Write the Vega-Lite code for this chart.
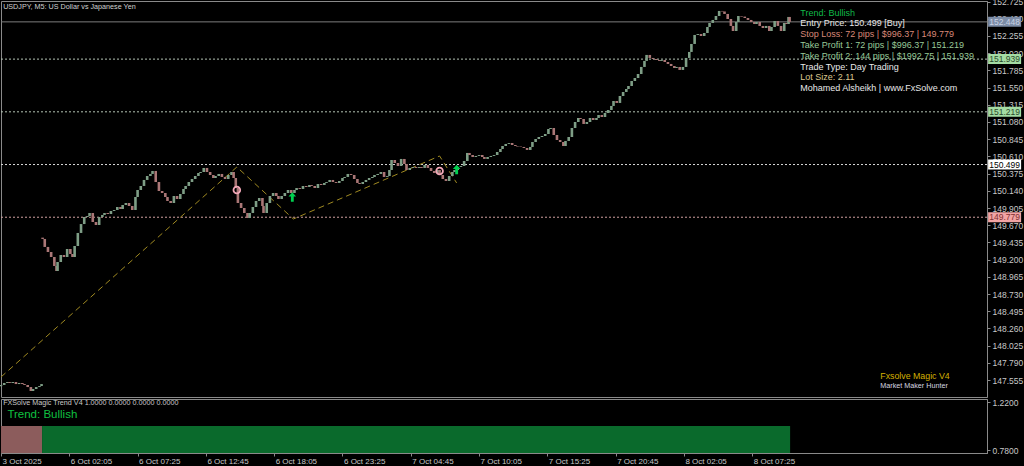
{
"$schema": "https://vega.github.io/schema/vega-lite/v6.json",
"background": "#000000",
"padding": {"top": -3, "left": -2, "right": 0, "bottom": 0},
"spacing": 2,
"bounds": "flush",
"config": {
  "view": {"stroke": "#8a8a8a", "strokeWidth": 1},
  "font": "Liberation Sans",
  "axis": {"domainColor": "#8a8a8a", "tickColor": "#8a8a8a", "labelColor": "#c8c8c8", "labelFont": "Liberation Sans", "labelFontSize": 8.5, "grid": false, "tickSize": 3, "labelPadding": 2, "labelOverlap": false, "labelFlush": false}
},
"datasets": {
  "candles": [
{"i":0,"o":147.470,"c":147.487},{"i":3,"o":147.487,"c":147.514},{"i":6,"o":147.514,"c":147.528},{"i":8,"o":147.528,"c":147.514},{"i":11,"o":147.514,"c":147.528},{"i":14,"o":147.528,"c":147.500},{"i":17,"o":147.500,"c":147.514},{"i":20,"o":147.514,"c":147.500},{"i":22,"o":147.500,"c":147.487},{"i":25,"o":147.487,"c":147.459},{"i":28,"o":147.459,"c":147.405},{"i":30,"o":147.405,"c":147.432},{"i":33,"o":147.432,"c":147.459},{"i":36,"o":147.459,"c":147.473},{"i":38,"o":147.473,"c":147.500},
{"i":39,"o":149.500,"c":149.482},{"i":41,"o":149.482,"c":149.373},{"i":44,"o":149.373,"c":149.304},{"i":47,"o":149.304,"c":149.236},{"i":50,"o":149.236,"c":149.113},{"i":52,"o":149.113,"c":149.044},{"i":53,"o":149.044,"c":149.167},{"i":56,"o":149.167,"c":149.263},{"i":59,"o":149.263,"c":149.236},{"i":62,"o":149.236,"c":149.345},{"i":65,"o":149.345,"c":149.277},{"i":67,"o":149.277,"c":149.236},{"i":69,"o":149.236,"c":149.386},{"i":72,"o":149.386,"c":149.564},{"i":75,"o":149.564,"c":149.686},{"i":78,"o":149.686,"c":149.782},{"i":81,"o":149.782,"c":149.796},{"i":83,"o":149.796,"c":149.837},{"i":86,"o":149.837,"c":149.714},{"i":89,"o":149.714,"c":149.673},{"i":92,"o":149.673,"c":149.782},{"i":95,"o":149.782,"c":149.810},{"i":97,"o":149.810,"c":149.837},{"i":100,"o":149.837,"c":149.823},{"i":103,"o":149.823,"c":149.864},{"i":106,"o":149.864,"c":149.878},{"i":109,"o":149.878,"c":149.919},{"i":112,"o":149.919,"c":149.891},{"i":114,"o":149.891,"c":149.946},{"i":117,"o":149.946,"c":149.973},{"i":120,"o":149.973,"c":149.932},{"i":123,"o":149.932,"c":149.878},{"i":126,"o":149.878,"c":150.055},{"i":128,"o":150.055,"c":150.151},{"i":131,"o":150.151,"c":150.206},{"i":134,"o":150.206,"c":150.288},{"i":137,"o":150.288,"c":150.342},{"i":140,"o":150.342,"c":150.370},{"i":142,"o":150.370,"c":150.411},{"i":145,"o":150.411,"c":150.260},{"i":148,"o":150.260,"c":150.137},{"i":151,"o":150.137,"c":150.110},{"i":154,"o":150.110,"c":150.055},{"i":156,"o":150.055,"c":150.001},{"i":159,"o":150.001,"c":149.973},{"i":162,"o":149.973,"c":150.069},{"i":165,"o":150.069,"c":150.028},{"i":168,"o":150.028,"c":150.096},{"i":171,"o":150.096,"c":150.165},{"i":173,"o":150.165,"c":150.206},{"i":176,"o":150.206,"c":150.260},{"i":179,"o":150.260,"c":150.301},{"i":182,"o":150.301,"c":150.342},{"i":185,"o":150.342,"c":150.383},{"i":187,"o":150.383,"c":150.397},{"i":190,"o":150.397,"c":150.452},{"i":193,"o":150.452,"c":150.397},{"i":196,"o":150.397,"c":150.356},{"i":199,"o":150.356,"c":150.315},{"i":201,"o":150.315,"c":150.342},{"i":204,"o":150.342,"c":150.370},{"i":207,"o":150.370,"c":150.329},{"i":210,"o":150.329,"c":150.301},{"i":213,"o":150.301,"c":150.356},{"i":216,"o":150.356,"c":150.397},{"i":218,"o":150.397,"c":150.315},{"i":220,"o":150.315,"c":150.178},{"i":222,"o":150.178,"c":149.973},{"i":225,"o":149.973,"c":149.905},{"i":228,"o":149.905,"c":149.837},{"i":231,"o":149.837,"c":149.768},{"i":233,"o":149.768,"c":149.837},{"i":236,"o":149.837,"c":149.919},{"i":239,"o":149.919,"c":150.001},{"i":242,"o":150.001,"c":150.042},{"i":245,"o":150.042,"c":149.932},{"i":246,"o":149.932,"c":149.837},{"i":249,"o":149.837,"c":149.973},{"i":252,"o":149.973,"c":150.069},{"i":255,"o":150.069,"c":150.110},{"i":258,"o":150.110,"c":150.069},{"i":260,"o":150.069,"c":150.028},{"i":263,"o":150.028,"c":150.069},{"i":266,"o":150.069,"c":150.110},{"i":269,"o":150.110,"c":150.151},{"i":272,"o":150.151,"c":150.110},{"i":275,"o":150.110,"c":150.151},{"i":277,"o":150.151,"c":150.178},{"i":280,"o":150.178,"c":150.165},{"i":283,"o":150.165,"c":150.206},{"i":286,"o":150.206,"c":150.192},{"i":289,"o":150.192,"c":150.219},{"i":291,"o":150.219,"c":150.206},{"i":294,"o":150.206,"c":150.178},{"i":297,"o":150.178,"c":150.233},{"i":300,"o":150.233,"c":150.219},{"i":303,"o":150.219,"c":150.247},{"i":305,"o":150.247,"c":150.260},{"i":308,"o":150.260,"c":150.288},{"i":311,"o":150.288,"c":150.260},{"i":314,"o":150.260,"c":150.247},{"i":317,"o":150.247,"c":150.274},{"i":320,"o":150.274,"c":150.315},{"i":322,"o":150.315,"c":150.329},{"i":325,"o":150.329,"c":150.370},{"i":328,"o":150.370,"c":150.356},{"i":331,"o":150.356,"c":150.301},{"i":334,"o":150.301,"c":150.247},{"i":336,"o":150.247,"c":150.233},{"i":339,"o":150.233,"c":150.260},{"i":342,"o":150.260,"c":150.288},{"i":345,"o":150.288,"c":150.315},{"i":348,"o":150.315,"c":150.329},{"i":350,"o":150.329,"c":150.356},{"i":353,"o":150.356,"c":150.370},{"i":356,"o":150.370,"c":150.397},{"i":359,"o":150.397,"c":150.329},{"i":362,"o":150.329,"c":150.342},{"i":364,"o":150.342,"c":150.424},{"i":366,"o":150.424,"c":150.561},{"i":369,"o":150.561,"c":150.520},{"i":372,"o":150.520,"c":150.479},{"i":375,"o":150.479,"c":150.575},{"i":378,"o":150.575,"c":150.506},{"i":380,"o":150.506,"c":150.424},{"i":383,"o":150.424,"c":150.452},{"i":386,"o":150.452,"c":150.465},{"i":389,"o":150.465,"c":150.452},{"i":392,"o":150.452,"c":150.465},{"i":394,"o":150.465,"c":150.452},{"i":397,"o":150.452,"c":150.493},{"i":400,"o":150.493,"c":150.452},{"i":403,"o":150.452,"c":150.411},{"i":406,"o":150.411,"c":150.383},{"i":409,"o":150.383,"c":150.424},{"i":411,"o":150.424,"c":150.356},{"i":414,"o":150.356,"c":150.301},{"i":417,"o":150.301,"c":150.274},{"i":420,"o":150.274,"c":150.342},{"i":423,"o":150.342,"c":150.397},{"i":425,"o":150.397,"c":150.424},{"i":428,"o":150.424,"c":150.465},{"i":431,"o":150.465,"c":150.479},{"i":434,"o":150.479,"c":150.547},{"i":437,"o":150.547,"c":150.657},{"i":439,"o":150.657,"c":150.629},{"i":442,"o":150.629,"c":150.602},{"i":445,"o":150.602,"c":150.616},{"i":448,"o":150.616,"c":150.629},{"i":451,"o":150.629,"c":150.602},{"i":453,"o":150.602,"c":150.575},{"i":456,"o":150.575,"c":150.602},{"i":459,"o":150.602,"c":150.616},{"i":462,"o":150.616,"c":150.629},{"i":465,"o":150.629,"c":150.670},{"i":468,"o":150.670,"c":150.711},{"i":470,"o":150.711,"c":150.752},{"i":473,"o":150.752,"c":150.780},{"i":476,"o":150.780,"c":150.793},{"i":479,"o":150.793,"c":150.766},{"i":482,"o":150.766,"c":150.752},{"i":484,"o":150.752,"c":150.745},{"i":487,"o":150.745,"c":150.739},{"i":490,"o":150.739,"c":150.725},{"i":493,"o":150.725,"c":150.698},{"i":496,"o":150.698,"c":150.739},{"i":498,"o":150.739,"c":150.807},{"i":501,"o":150.807,"c":150.848},{"i":504,"o":150.848,"c":150.875},{"i":507,"o":150.875,"c":150.889},{"i":510,"o":150.889,"c":150.916},{"i":513,"o":150.916,"c":150.984},{"i":515,"o":150.984,"c":150.998},{"i":518,"o":150.998,"c":150.902},{"i":521,"o":150.902,"c":150.834},{"i":524,"o":150.834,"c":150.807},{"i":527,"o":150.807,"c":150.752},{"i":529,"o":150.752,"c":150.821},{"i":532,"o":150.821,"c":150.875},{"i":535,"o":150.875,"c":150.998},{"i":538,"o":150.998,"c":151.080},{"i":541,"o":151.080,"c":151.135},{"i":543,"o":151.135,"c":151.121},{"i":546,"o":151.121,"c":151.053},{"i":549,"o":151.053,"c":151.080},{"i":552,"o":151.080,"c":151.135},{"i":555,"o":151.135,"c":151.107},{"i":558,"o":151.107,"c":151.135},{"i":560,"o":151.135,"c":151.176},{"i":563,"o":151.176,"c":151.148},{"i":566,"o":151.148,"c":151.203},{"i":569,"o":151.203,"c":151.244},{"i":572,"o":151.244,"c":151.299},{"i":574,"o":151.299,"c":151.367},{"i":577,"o":151.367,"c":151.340},{"i":580,"o":151.340,"c":151.435},{"i":583,"o":151.435,"c":151.490},{"i":586,"o":151.490,"c":151.531},{"i":588,"o":151.531,"c":151.572},{"i":591,"o":151.572,"c":151.640},{"i":594,"o":151.640,"c":151.681},{"i":597,"o":151.681,"c":151.736},{"i":600,"o":151.736,"c":151.832},{"i":603,"o":151.832,"c":151.914},{"i":605,"o":151.914,"c":151.996},{"i":608,"o":151.996,"c":151.955},{"i":611,"o":151.955,"c":151.941},{"i":614,"o":151.941,"c":151.927},{"i":617,"o":151.927,"c":151.914},{"i":619,"o":151.914,"c":151.927},{"i":622,"o":151.927,"c":151.900},{"i":625,"o":151.900,"c":151.873},{"i":628,"o":151.873,"c":151.845},{"i":631,"o":151.845,"c":151.818},{"i":633,"o":151.818,"c":151.832},{"i":636,"o":151.832,"c":151.791},{"i":639,"o":151.791,"c":151.832},{"i":642,"o":151.832,"c":151.955},{"i":645,"o":151.955,"c":152.037},{"i":647,"o":152.037,"c":152.146},{"i":650,"o":152.146,"c":152.269},{"i":653,"o":152.269,"c":152.282},{"i":656,"o":152.282,"c":152.255},{"i":659,"o":152.255,"c":152.296},{"i":662,"o":152.296,"c":152.378},{"i":664,"o":152.378,"c":152.433},{"i":667,"o":152.433,"c":152.474},{"i":670,"o":152.474,"c":152.528},{"i":673,"o":152.528,"c":152.597},{"i":676,"o":152.597,"c":152.590},{"i":678,"o":152.590,"c":152.556},{"i":681,"o":152.556,"c":152.487},{"i":684,"o":152.487,"c":152.392},{"i":686,"o":152.392,"c":152.323},{"i":689,"o":152.323,"c":152.446},{"i":691,"o":152.446,"c":152.528},{"i":694,"o":152.528,"c":152.520},{"i":697,"o":152.520,"c":152.501},{"i":700,"o":152.501,"c":152.474},{"i":703,"o":152.474,"c":152.446},{"i":706,"o":152.446,"c":152.419},{"i":708,"o":152.419,"c":152.446},{"i":711,"o":152.446,"c":152.392},{"i":714,"o":152.392,"c":152.364},{"i":717,"o":152.364,"c":152.392},{"i":720,"o":152.392,"c":152.323},{"i":722,"o":152.323,"c":152.378},{"i":725,"o":152.378,"c":152.460},{"i":728,"o":152.460,"c":152.392},{"i":731,"o":152.392,"c":152.323},{"i":734,"o":152.323,"c":152.433},{"i":736,"o":152.433,"c":152.419},{"i":738,"o":152.419,"c":152.515},{"i":739,"o":152.515,"c":152.448}
  ],
  "zigzag": [{"i":0,"p":147.596},{"i":221,"p":150.465},{"i":274,"p":149.755},{"i":411,"p":150.616},{"i":427,"p":150.247}],
  "levels": [
    {"name":"Bid","price":152.448},
    {"name":"Take Profit 2","price":151.939},
    {"name":"Take Profit 1","price":151.219},
    {"name":"Entry","price":150.499},
    {"name":"Stop Loss","price":149.779}
  ],
  "sells": [{"i":221,"p":150.151},{"i":411,"p":150.411}],
  "buys": [{"i":273,"p":150.055},{"i":427,"p":150.431}],
  "trend": [{"from":0,"to":38.5,"v":1,"trend":"Bearish"},{"from":38.5,"to":739.5,"v":1,"trend":"Bullish"}]
},
"vconcat": [
{
  "width": 986, "height": 396,
  "layer": [
    {
      "data": {"name": "levels"},
      "mark": {"type": "rule", "strokeWidth": 1},
      "encoding": {
        "x": {"datum": 0, "type": "quantitative", "scale": {"domain": [0, 924], "nice": false, "zero": false}, "axis": null},
        "x2": {"datum": 924},
        "y": {"field": "price", "type": "quantitative", "scale": {"domain": [147.323, 152.733], "nice": false, "zero": false},
              "axis": {"orient": "right", "title": null, "format": ".3f", "labelBaseline": "middle", "labelOverlap": false, "labelBound": false, "tickCount": 40,
                       "values": [152.725,152.49,152.255,152.02,151.785,151.55,151.315,151.08,150.845,150.61,150.375,150.14,149.905,149.67,149.435,149.2,148.965,148.73,148.495,148.26,148.025,147.79,147.555]}},
        "color": {"field": "name", "type": "nominal", "legend": null,
                  "scale": {"domain": ["Bid","Take Profit 2","Take Profit 1","Entry","Stop Loss"], "range": ["#7c7c7c","#b4c4b4","#b4c4b4","#d8d8d8","#d0a0a0"]}},
        "strokeDash": {"field": "name", "type": "nominal", "legend": null,
                  "scale": {"domain": ["Bid","Take Profit 2","Take Profit 1","Entry","Stop Loss"], "range": [[1,0],[2,2],[2,2],[2,2],[2,2]]}}
      }
    },
    {
      "data": {"name": "zigzag"},
      "mark": {"type": "line", "color": "#a08a22", "strokeWidth": 1, "strokeDash": [6,4]},
      "encoding": {
        "x": {"field": "i", "type": "quantitative", "axis": null},
        "y": {"field": "p", "type": "quantitative", "axis": {"orient": "right", "title": null, "labelOverlap": false, "tickCount": 40}}
      }
    },
    {
      "data": {"name": "candles"},
      "mark": {"type": "rule", "strokeWidth": 2.6},
      "encoding": {
        "x": {"field": "i", "type": "quantitative", "axis": null},
        "y": {"field": "o", "type": "quantitative", "axis": {"orient": "right", "title": null, "labelOverlap": false, "tickCount": 40}},
        "y2": {"field": "c"},
        "color": {"condition": {"test": "datum.c >= datum.o", "value": "#7e9e86"}, "value": "#aa7676"}
      }
    },
    {
      "data": {"name": "sells"},
      "mark": {"type": "point", "shape": "circle", "filled": false, "size": 45, "strokeWidth": 1.8, "color": "#f2a8b8", "opacity": 1},
      "encoding": {
        "x": {"field": "i", "type": "quantitative", "axis": null},
        "y": {"field": "p", "type": "quantitative", "axis": {"orient": "right", "title": null, "labelOverlap": false, "tickCount": 40}}
      }
    },
    {
      "data": {"name": "buys"},
      "mark": {"type": "point", "shape": "M0,-1L0.8,-0.1L0.3,-0.1L0.3,1L-0.3,1L-0.3,-0.1L-0.8,-0.1Z", "filled": true, "size": 90, "color": "#00d050", "opacity": 1},
      "encoding": {
        "x": {"field": "i", "type": "quantitative", "axis": null},
        "y": {"field": "p", "type": "quantitative", "axis": {"orient": "right", "title": null, "labelOverlap": false, "tickCount": 40}}
      }
    },
    {
      "data": {"values": [{}]},
      "mark": {"type": "text", "text": "USDJPY, M5:  US Dollar vs Japanese Yen", "align": "left", "baseline": "middle", "fontSize": 7.2, "color": "#d0d0d0"},
      "encoding": {"x": {"datum": 2, "type": "quantitative", "axis": null}, "y": {"datum": 152.651, "type": "quantitative", "axis": {"orient": "right", "title": null, "labelOverlap": false, "tickCount": 40}}}
    },
    {
      "data": {"values": [{}]},
      "mark": {"type": "text", "text": "Trend: Bullish", "align": "left", "baseline": "middle", "fontSize": 9, "color": "#10b848"},
      "encoding": {"x": {"datum": 749, "type": "quantitative", "axis": null}, "y": {"datum": 152.569, "type": "quantitative", "axis": {"orient": "right", "title": null, "labelOverlap": false, "tickCount": 40}}}
    },
    {
      "data": {"values": [{}]},
      "mark": {"type": "text", "text": "Entry Price: 150.499 [Buy]", "align": "left", "baseline": "middle", "fontSize": 9, "color": "#e8e8e8"},
      "encoding": {"x": {"datum": 749, "type": "quantitative", "axis": null}, "y": {"datum": 152.426, "type": "quantitative", "axis": {"orient": "right", "title": null, "labelOverlap": false, "tickCount": 40}}}
    },
    {
      "data": {"values": [{}]},
      "mark": {"type": "text", "text": "Stop Loss: 72 pips | $996.37 | 149.779", "align": "left", "baseline": "middle", "fontSize": 9, "color": "#d88878"},
      "encoding": {"x": {"datum": 749, "type": "quantitative", "axis": null}, "y": {"datum": 152.282, "type": "quantitative", "axis": {"orient": "right", "title": null, "labelOverlap": false, "tickCount": 40}}}
    },
    {
      "data": {"values": [{}]},
      "mark": {"type": "text", "text": "Take Profit 1: 72 pips | $996.37 | 151.219", "align": "left", "baseline": "middle", "fontSize": 9, "color": "#98c898"},
      "encoding": {"x": {"datum": 749, "type": "quantitative", "axis": null}, "y": {"datum": 152.132, "type": "quantitative", "axis": {"orient": "right", "title": null, "labelOverlap": false, "tickCount": 40}}}
    },
    {
      "data": {"values": [{}]},
      "mark": {"type": "text", "text": "Take Profit 2: 144 pips | $1992.75 | 151.939", "align": "left", "baseline": "middle", "fontSize": 9, "color": "#98c898"},
      "encoding": {"x": {"datum": 749, "type": "quantitative", "axis": null}, "y": {"datum": 151.982, "type": "quantitative", "axis": {"orient": "right", "title": null, "labelOverlap": false, "tickCount": 40}}}
    },
    {
      "data": {"values": [{}]},
      "mark": {"type": "text", "text": "Trade Type: Day Trading", "align": "left", "baseline": "middle", "fontSize": 9, "color": "#e8e8e8"},
      "encoding": {"x": {"datum": 749, "type": "quantitative", "axis": null}, "y": {"datum": 151.832, "type": "quantitative", "axis": {"orient": "right", "title": null, "labelOverlap": false, "tickCount": 40}}}
    },
    {
      "data": {"values": [{}]},
      "mark": {"type": "text", "text": "Lot Size: 2.11", "align": "left", "baseline": "middle", "fontSize": 9, "color": "#dcc890"},
      "encoding": {"x": {"datum": 749, "type": "quantitative", "axis": null}, "y": {"datum": 151.695, "type": "quantitative", "axis": {"orient": "right", "title": null, "labelOverlap": false, "tickCount": 40}}}
    },
    {
      "data": {"values": [{}]},
      "mark": {"type": "text", "text": "Mohamed Alsheikh | www.FxSolve.com", "align": "left", "baseline": "middle", "fontSize": 9, "color": "#e8e8e8"},
      "encoding": {"x": {"datum": 749, "type": "quantitative", "axis": null}, "y": {"datum": 151.545, "type": "quantitative", "axis": {"orient": "right", "title": null, "labelOverlap": false, "tickCount": 40}}}
    },
    {
      "data": {"values": [{}]},
      "mark": {"type": "text", "text": "Fxsolve Magic V4", "align": "left", "baseline": "middle", "fontSize": 8.8, "color": "#d4b000"},
      "encoding": {"x": {"datum": 824, "type": "quantitative", "axis": null}, "y": {"datum": 147.610, "type": "quantitative", "axis": {"orient": "right", "title": null, "labelOverlap": false, "tickCount": 40}}}
    },
    {
      "data": {"values": [{}]},
      "mark": {"type": "text", "text": "Market Maker Hunter", "align": "left", "baseline": "middle", "fontSize": 7.2, "color": "#d8d8e0"},
      "encoding": {"x": {"datum": 824, "type": "quantitative", "axis": null}, "y": {"datum": 147.473, "type": "quantitative", "axis": {"orient": "right", "title": null, "labelOverlap": false, "tickCount": 40}}}
    },
    {
      "data": {"name": "levels"},
      "mark": {"type": "tick", "orient": "horizontal", "size": 33, "thickness": 10, "opacity": 1},
      "encoding": {
        "x": {"datum": 940.5, "type": "quantitative", "axis": null},
        "y": {"field": "price", "type": "quantitative", "axis": {"orient": "right", "title": null, "labelOverlap": false, "tickCount": 40}},
        "color": {"field": "name", "type": "nominal", "legend": null,
                  "scale": {"domain": ["Bid","Take Profit 2","Take Profit 1","Entry","Stop Loss"], "range": ["#7c8ca6","#a4dca4","#a4dca4","#ffffff","#f2a4a4"]}}
      }
    },
    {
      "data": {"name": "levels"},
      "mark": {"type": "text", "align": "center", "baseline": "middle", "fontSize": 8.5},
      "encoding": {
        "x": {"datum": 940.5, "type": "quantitative", "axis": null},
        "y": {"field": "price", "type": "quantitative", "axis": {"orient": "right", "title": null, "labelOverlap": false, "tickCount": 40}},
        "text": {"field": "price", "type": "quantitative", "format": ".3f"},
        "color": {"field": "name", "type": "nominal", "legend": null,
                  "scale": {"domain": ["Bid","Take Profit 2","Take Profit 1","Entry","Stop Loss"], "range": ["#c8d2e4","#2a4a2a","#2a4a2a","#000000","#803030"]}}
      }
    }
  ],
  "resolve": {"scale": {"color": "independent"}}
},
{
  "width": 986, "height": 54,
  "layer": [
    {
      "data": {"name": "trend"},
      "mark": {"type": "rect", "clip": true},
      "encoding": {
        "x": {"field": "from", "type": "quantitative", "scale": {"domain": [0, 924], "nice": false, "zero": false},
              "axis": {"orient": "bottom", "title": null, "values": [0,64,128,192,256,320,384,448,512,576,640,704], "tickCount": 40, "labelAlign": "left", "labelBaseline": "top", "labelPadding": 1, "labelFontSize": 8, "labelOffset": 1, "labelOverlap": false,
                       "labelExpr": "['3 Oct 2025','6 Oct 02:05','6 Oct 07:25','6 Oct 12:45','6 Oct 18:05','6 Oct 23:25','7 Oct 04:45','7 Oct 10:05','7 Oct 15:25','7 Oct 20:45','8 Oct 02:05','8 Oct 07:25'][round(datum.value/64)]"}},
        "x2": {"field": "to"},
        "y": {"field": "v", "type": "quantitative", "scale": {"domain": [0.7525, 1.2475], "nice": false, "zero": false},
              "axis": {"orient": "right", "title": null, "values": [1.22, 0.78], "format": ".4f", "labelBaseline": "middle", "labelOverlap": false}},
        "y2": {"datum": 0},
        "color": {"field": "trend", "type": "nominal", "legend": null, "scale": {"domain": ["Bearish","Bullish"], "range": ["#8c5c5c","#0a6a2c"]}}
      }
    },
    {
      "data": {"values": [{}]},
      "mark": {"type": "text", "text": "FXSolve Magic Trend V4 1.0000 0.0000 0.0000 0.0000", "align": "left", "baseline": "middle", "fontSize": 7.2, "color": "#c8c8c8"},
      "encoding": {"x": {"datum": 2, "type": "quantitative", "axis": {"orient": "bottom", "title": null, "labelOverlap": false, "tickCount": 40}},
                   "y": {"datum": 1.211, "type": "quantitative", "axis": {"orient": "right", "title": null, "labelOverlap": false}}}
    },
    {
      "data": {"values": [{}]},
      "mark": {"type": "text", "text": "Trend: Bullish", "align": "left", "baseline": "middle", "fontSize": 11.5, "color": "#10c040"},
      "encoding": {"x": {"datum": 6, "type": "quantitative", "axis": {"orient": "bottom", "title": null, "labelOverlap": false, "tickCount": 40}},
                   "y": {"datum": 1.101, "type": "quantitative", "axis": {"orient": "right", "title": null, "labelOverlap": false}}}
    }
  ]
}
]
}
